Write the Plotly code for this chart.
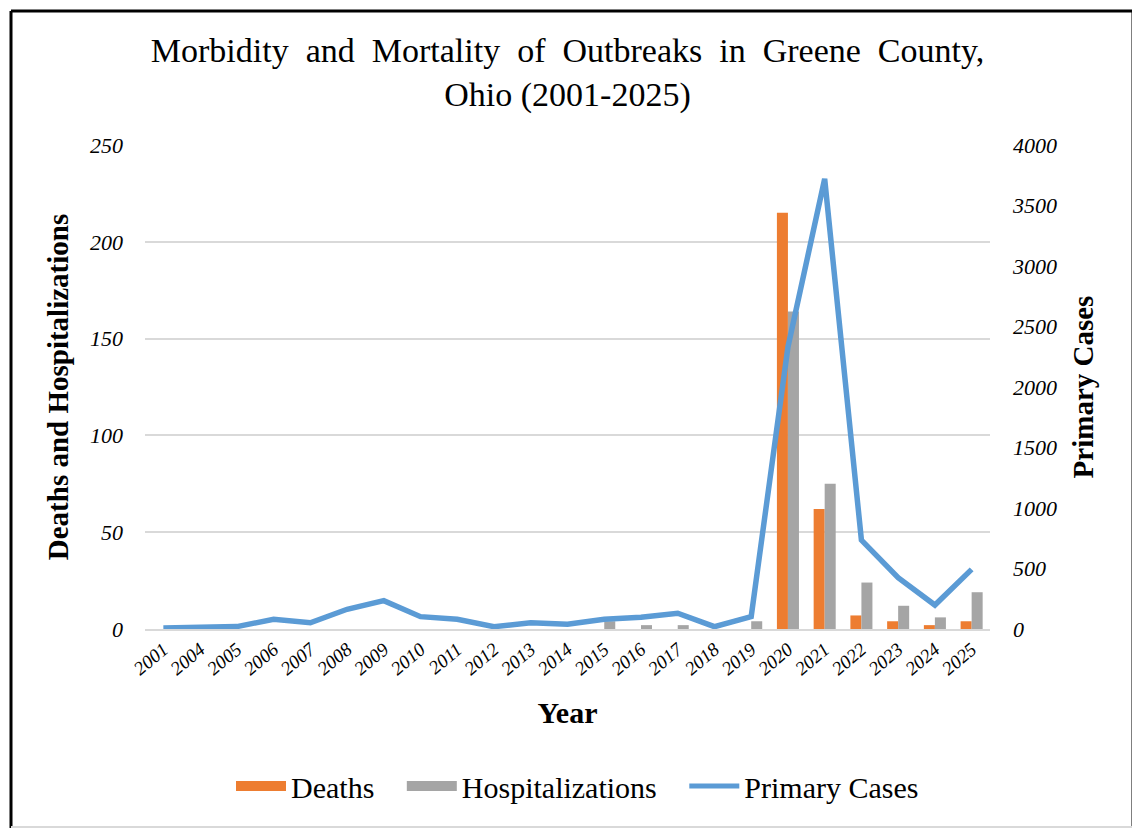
import plotly.graph_objects as go

years = ["2001", "2004", "2005", "2006", "2007", "2008", "2009", "2010", "2011", "2012",
         "2013", "2014", "2015", "2016", "2017", "2018", "2019", "2020", "2021", "2022",
         "2023", "2024", "2025"]
deaths = [0, 0, 0, 0, 0, 0, 0, 0, 0, 0, 0, 0, 0, 0, 0, 0, 0, 215, 62, 7, 4, 2, 4]
hospitalizations = [0, 0, 0, 0, 0, 0, 0, 0, 0, 0, 0, 0, 4, 2, 2, 0, 4, 164, 75, 24, 12, 6, 19]
primary_cases = [8, 10, 20, 80, 52, 163, 234, 102, 80, 19, 52, 39, 80, 97, 130, 19, 102,
                 2330, 3720, 735, 425, 198, 493]

left_ticks = [0, 50, 100, 150, 200, 250]
right_ticks = [0, 500, 1000, 1500, 2000, 2500, 3000, 3500, 4000]

ORANGE, GREY, BLUE = "#ED7D31", "#A5A5A5", "#5B9BD5"
SERIF = "Liberation Serif, Times New Roman, serif"

# page offset of the plot div (browser body margin)
OFF = 8
W, H = 1140 - OFF, 829 - OFF
L, R, T, B = 145 - OFF, 990 - OFF, 145 - OFF, 629 - OFF


def px_x(p):
    return (p - OFF - L) / (R - L)


def px_y(p):
    return (B - (p - OFF)) / (B - T)


fig = go.Figure()
fig.add_trace(go.Bar(x=years, y=deaths, name="Deaths", marker_color=ORANGE,
                     marker_line_width=0, showlegend=False))
fig.add_trace(go.Bar(x=years, y=hospitalizations, name="Hospitalizations",
                     marker_color=GREY, marker_line_width=0, showlegend=False))
fig.add_trace(go.Scatter(x=years, y=primary_cases, name="Primary Cases", mode="lines",
                         line=dict(color=BLUE, width=5.5), yaxis="y2", showlegend=False))

# legend entries (wide swatches like the original)
SP = "\u00a0\u00a0\u00a0"
fig.add_trace(go.Scatter(x=[None], y=[None], name="Deaths" + SP, mode="lines",
                         line=dict(color=ORANGE, width=14)))
fig.add_trace(go.Scatter(x=[None], y=[None], name="Hospitalizations" + SP, mode="lines",
                         line=dict(color=GREY, width=14)))
fig.add_trace(go.Scatter(x=[None], y=[None], name="Primary Cases", mode="lines",
                         line=dict(color=BLUE, width=5)))

shapes = [
    dict(type="line", xref="paper", yref="paper", x0=px_x(11), x1=px_x(11), y0=px_y(11), y1=px_y(828),
         line=dict(color="black", width=3)),
    dict(type="line", xref="paper", yref="paper", x0=px_x(11), x1=px_x(1133), y0=px_y(11), y1=px_y(11),
         line=dict(color="black", width=3)),
    dict(type="line", xref="paper", yref="paper", x0=px_x(1133), x1=px_x(1133), y0=px_y(11), y1=px_y(828),
         line=dict(color="black", width=3)),
    dict(type="line", xref="paper", yref="paper", x0=px_x(11), x1=px_x(1133), y0=px_y(827), y1=px_y(827),
         line=dict(color="#D9D9D9", width=2)),
]

fig.update_layout(
    width=W, height=H,
    margin=dict(l=L, r=W - R, t=T, b=H - B, autoexpand=False),
    paper_bgcolor="white", plot_bgcolor="white",
    barmode="group", bargap=0.4, bargroupgap=0,
    font=dict(family=SERIF, color="black"),
    title=dict(text="Morbidity  and  Mortality  of  Outbreaks  in  Greene  County,<br>Ohio (2001-2025)",
               x=0.5, xref="paper", xanchor="center", yref="container",
               y=1 - (62 - OFF) / H, yanchor="top",
               font=dict(family=SERIF, size=34, color="black")),
    xaxis=dict(type="category", tickangle=-40, tickfont=dict(family=SERIF, size=19, style="italic"),
               showgrid=False, showline=True, linecolor="#D9D9D9", linewidth=2, ticks="",
               title=dict(text="<b>Year</b>", font=dict(family=SERIF, size=30), standoff=24)),
    yaxis=dict(range=[0, 250], tickvals=left_ticks, showgrid=True, gridcolor="#D9D9D9", gridwidth=2,
               zeroline=False, showline=False, ticks="", ticklabelstandoff=21,
               tickfont=dict(family=SERIF, size=22, style="italic"),
               title=dict(text="<b>Deaths and Hospitalizations</b>", font=dict(family=SERIF, size=29),
                          standoff=12)),
    yaxis2=dict(range=[0, 4000], tickvals=right_ticks, overlaying="y", side="right", showgrid=False,
                zeroline=False, showline=False, ticks="", ticklabelstandoff=22,
                tickfont=dict(family=SERIF, size=22, style="italic"),
                title=dict(text="<b>Primary Cases</b>", font=dict(family=SERIF, size=29), standoff=16)),
    legend=dict(orientation="h", x=0.5 + 10 / (R - L), xanchor="center", y=px_y(786), yanchor="middle",
                font=dict(family=SERIF, size=30), itemwidth=50, traceorder="normal"),
    shapes=shapes,
)

fig.write_html("out.html")
